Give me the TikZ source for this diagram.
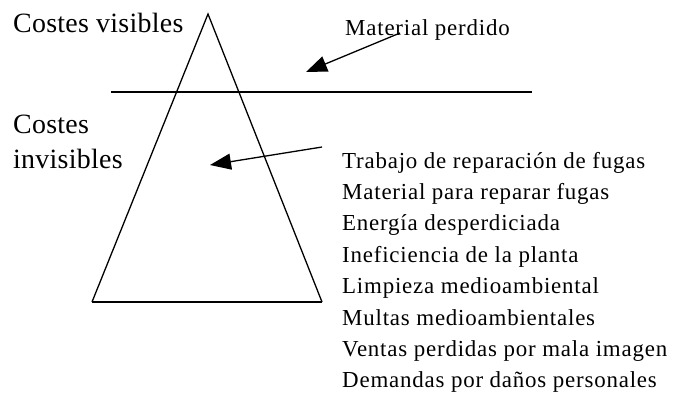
\documentclass[tikz,border=0pt]{standalone}
\usepackage{fontspec}
\setmainfont{Liberation Serif}
\usetikzlibrary{arrows.meta}
\newfontfamily\bigfont[LetterSpace=1]{Liberation Serif}
\newfontfamily\listfont[LetterSpace=3.5]{Liberation Serif}
\tikzset{
  bigtext/.style={anchor=base west, inner sep=0pt, font=\bigfont\fontsize{28}{32}\selectfont},
  listtext/.style={anchor=base west, inner sep=0pt, font=\listfont\fontsize{23}{27}\selectfont},
  thinline/.style={line width=1.3bp},
  thickline/.style={line width=2.6bp},
  ptr/.style={line width=1.3bp, -{Triangle[length=21bp, width=16bp]}}
}
\begin{document}
\begin{tikzpicture}[x=1bp,y=-1bp]
\useasboundingbox (0,0) rectangle (697,401);
% triangle
\coordinate (apex) at (208,14);
\coordinate (bl) at (92,302);
\coordinate (br) at (322,302);
\draw[thinline, line join=miter] (bl) -- (apex) -- (br);
\draw[thickline] (bl) -- (br);
% horizontal divider
\coordinate (hl) at (111,92);
\coordinate (hr) at (532,92);
\draw[thickline] (hl) -- (hr);
% labels
\node[bigtext] (cv) at (13,32) {Costes visibles};
\node[bigtext] (ci1) at (13,133) {Costes};
\node[bigtext] (ci2) at (13,168) {invisibles};
\node[listtext] (mp) at (345,35) {Material perdido};
\node[listtext] (l1) at (342,168) {Trabajo de reparación de fugas};
\node[listtext] (l2) at (342,199.4) {Material para reparar fugas};
\node[listtext] (l3) at (342,230.8) {Energía desperdiciada};
\node[listtext] (l4) at (342,262.2) {Ineficiencia de la planta};
\node[listtext] (l5) at (342,293.6) {Limpieza medioambiental};
\node[listtext] (l6) at (342,325) {Multas medioambientales};
\node[listtext] (l7) at (342,356.4) {Ventas perdidas por mala imagen};
\node[listtext] (l8) at (342,387.8) {Demandas por daños personales};
% arrows
\coordinate (a1s) at (400,33);
\coordinate (a1e) at (306,72);
\coordinate (a2s) at (322,147);
\coordinate (a2e) at (210,165);
\draw[ptr] (a1s) -- (a1e);
\draw[ptr] (a2s) -- (a2e);
\end{tikzpicture}
\end{document}
